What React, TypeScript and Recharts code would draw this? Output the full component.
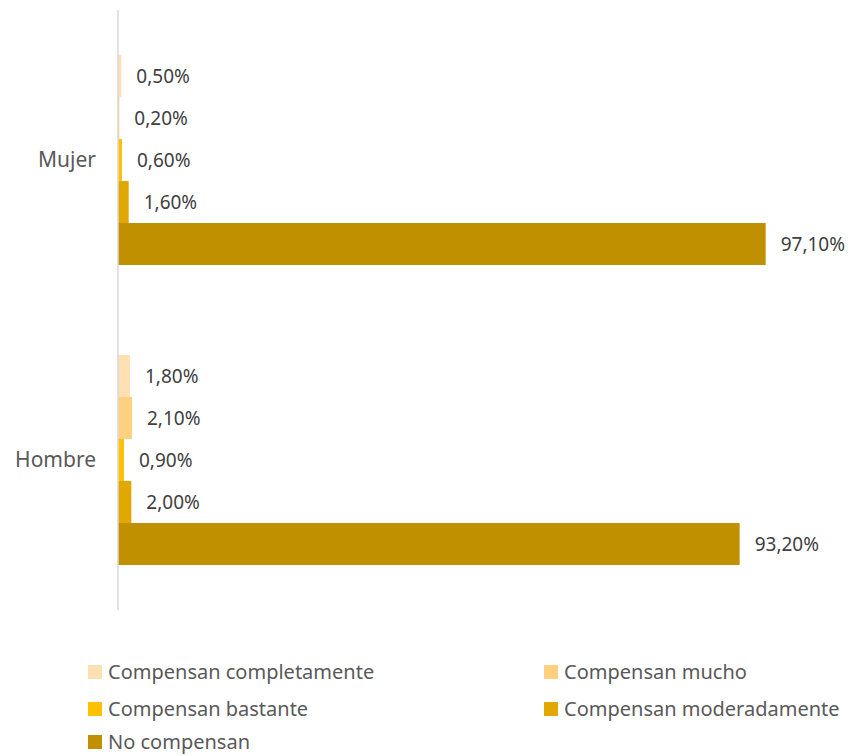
import React from "react";
import {
  BarChart,
  Bar,
  XAxis,
  YAxis,
  LabelList,
  Legend,
} from "recharts";

const categories = ["Mujer", "Hombre"];
const seriesNames = [
  "Compensan completamente",
  "Compensan mucho",
  "Compensan bastante",
  "Compensan moderadamente",
  "No compensan",
];
const completamente = [0.5, 1.8];
const mucho = [0.2, 2.1];
const bastante = [0.6, 0.9];
const moderadamente = [1.6, 2.0];
const noCompensan = [97.1, 93.2];

const seriesValues = [completamente, mucho, bastante, moderadamente, noCompensan];
const colors = ["#FFE0B3", "#FFD080", "#FFC000", "#E0A800", "#C09000"];

const chartData = categories.map((cat, i) => {
  const row: any = { name: cat };
  seriesNames.forEach((s, k) => {
    row[s] = seriesValues[k][i];
  });
  return row;
});

const fmt = (v: any) => Number(v).toFixed(2).replace(".", ",") + "%";

const FONT = "'Noto Sans', sans-serif";
const rowTops = [0, 37, 70];

const LegendBox = () => {
  // two columns, three rows
  return (
    <div style={{ position: "relative", width: 849, height: 90 }}>
      {seriesNames.map((s, k) => {
        const col = k % 2;
        const row = Math.floor(k / 2);
        return (
          <div
            key={s}
            style={{
              position: "absolute",
              left: col === 0 ? 88 : 544,
              top: rowTops[row],
              display: "flex",
              alignItems: "center",
              fontFamily: FONT,
              fontSize: 20,
              color: "#595959",
              whiteSpace: "nowrap",
              lineHeight: "20px",
            }}
          >
            <span
              style={{
                display: "inline-block",
                width: 14,
                height: 14,
                background: colors[k],
                marginRight: 6,
              }}
            />
            {s}
          </div>
        );
      })}
    </div>
  );
};

const App: React.FC = () => {
  return (
    <div style={{ position: "absolute", left: 0, top: 0 }}>
      <BarChart
        width={849}
        height={756}
        data={chartData}
        layout="vertical"
        margin={{ top: 10, right: 64, left: 0, bottom: 56 }}
        barCategoryGap="15%"
        barGap={0}
      >
        <XAxis type="number" domain={[0, 100]} hide />
        <YAxis
          type="category"
          dataKey="name"
          width={118}
          axisLine={{ stroke: "#D9D9D9", strokeWidth: 1.5 }}
          tickLine={false}
          tickSize={0}
          tickMargin={22}
          tick={{ fill: "#595959", fontSize: 21, fontFamily: FONT }}
        />
        <Legend
          content={() => <LegendBox />}
          wrapperStyle={{ position: "absolute", left: 0, top: 662, width: 849 }}
        />
        {seriesNames.map((s, k) => (
          <Bar key={s} dataKey={s} fill={colors[k]} isAnimationActive={false}>
            <LabelList
              dataKey={s}
              position="right"
              offset={15}
              formatter={fmt}
              style={{ fill: "#404040", fontSize: 19, fontFamily: FONT }}
            />
          </Bar>
        ))}
      </BarChart>
    </div>
  );
};

export default App;
